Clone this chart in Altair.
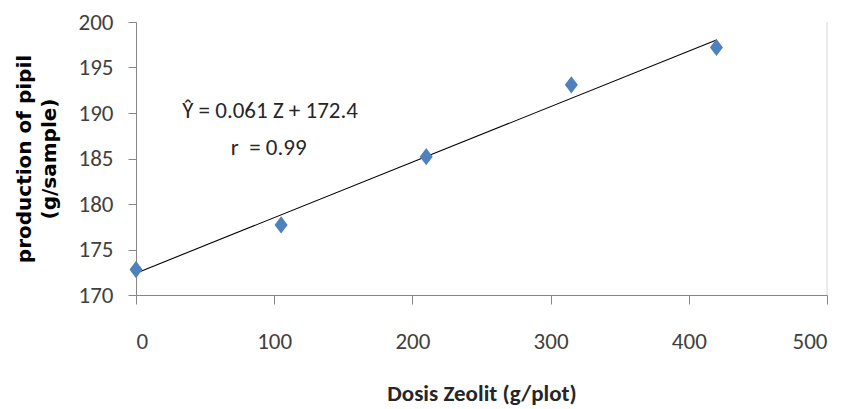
import altair as alt
import pandas as pd

dose = [0, 105, 210, 315, 420]
production = [172.8, 177.7, 185.2, 193.1, 197.2]
slope = 0.061
intercept = 172.4
trend_x = [0, 420]
eq_lines = ["Ŷ = 0.061 Z + 172.4", "r\u00a0 = 0.99"]
eq_x = [97, 96]
eq_y = [190.2, 186.1]

FONT = "Carlito, Liberation Sans Narrow, Noto Sans"
TITLE_FONT = "DejaVu Sans"

pts = pd.DataFrame({"x": dose, "y": production})
trend = pd.DataFrame({"x": trend_x, "y": [intercept + slope * v for v in trend_x]})
eq = pd.DataFrame({"x": eq_x, "y": eq_y, "t": eq_lines})

xs = alt.Scale(domain=[0, 500], nice=False)
ys = alt.Scale(domain=[170, 200], nice=False, zero=False)

xaxis = alt.Axis(
    values=[0, 100, 200, 300, 400, 500], grid=False, tickSize=9, tickColor="#868686",
    domainColor="#868686", labelFont=FONT, labelFontSize=23, labelColor="#404040",
    labelPadding=26, title="Dosis Zeolit (g/plot)", titleFont=FONT, titleFontSize=23,
    titleFontWeight="bold", titleColor="#262626", titlePadding=29,
)
yaxis = alt.Axis(
    values=[170, 175, 180, 185, 190, 195, 200], grid=False, tickSize=8, tickColor="#868686",
    domainColor="#868686", labelFont=FONT, labelFontSize=23, labelColor="#404040",
    labelPadding=15, title=["production of pipil", "(g/sample)"], titleFont=TITLE_FONT,
    titleFontSize=20, titleFontWeight="bold", titleColor="#000000", titleLineHeight=25,
    titleX=-112, titleBaseline="middle", titleAngle=-90,
)

border = alt.Chart(pd.DataFrame({"x": [500], "y": [170], "y2": [200]})).mark_rule(
    color="#D9D9D9", strokeWidth=1
).encode(x=alt.X("x:Q", scale=xs), y=alt.Y("y:Q", scale=ys), y2="y2:Q")

line = alt.Chart(trend).mark_line(color="#000000", strokeWidth=1.1).encode(
    x=alt.X("x:Q", scale=xs, axis=xaxis), y=alt.Y("y:Q", scale=ys, axis=yaxis)
)

points = alt.Chart(pts).mark_point(
    shape="M0,-1.15L0.87,0L0,1.15L-0.87,0Z", filled=True, size=225,
    color="#4F81BD", opacity=1
).encode(x=alt.X("x:Q", scale=xs), y=alt.Y("y:Q", scale=ys))

text = alt.Chart(eq).mark_text(
    font=FONT, fontSize=23, color="#262626", align="center", baseline="middle"
).encode(x=alt.X("x:Q", scale=xs), y=alt.Y("y:Q", scale=ys), text="t:N")

chart = (border + line + points + text).properties(
    width=691, height=273,
    autosize=alt.AutoSizeParams(type="none"),
    padding={"left": 128, "top": 14, "right": 10, "bottom": 114},
).configure_view(stroke=None)

chart.save("out.html", embed_options={"renderer": "svg", "actions": False})
